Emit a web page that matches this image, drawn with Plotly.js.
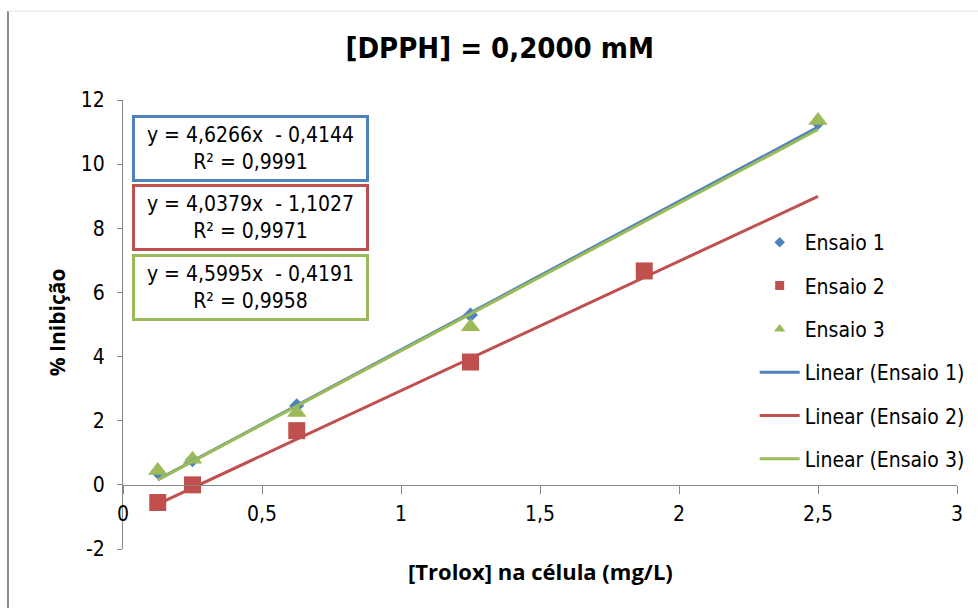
<!DOCTYPE html>
<html>
<head>
<meta charset="utf-8">
<script src="https://cdn.plot.ly/plotly-3.0.1.min.js"></script>
<style>html,body{margin:0;padding:0;background:#fff;}#chart{width:978px;height:608px;}</style>
</head>
<body>
<div id="chart"></div>
<script>
// ---- data ----
const x1 = [0.125, 0.25, 0.625, 1.25, 2.5];
const y1 = [0.40, 0.78, 2.47, 5.30, 11.30];
const x2 = [0.125, 0.25, 0.625, 1.25, 1.875];
const y2 = [-0.55, 0.00, 1.69, 3.83, 6.67];
const x3 = [0.125, 0.25, 0.625, 1.25, 2.5];
const y3 = [0.45, 0.80, 2.26, 4.93, 11.36];
const seriesNames = ['Ensaio 1', 'Ensaio 2', 'Ensaio 3'];
const slopes = [4.6266, 4.0379, 4.5995];
const intercepts = [-0.4144, -1.1027, -0.4191];
const r2 = ['0,9991', '0,9971', '0,9958'];
const trendX = [0.125, 2.5];
const xTickVals = [0, 0.5, 1, 1.5, 2, 2.5, 3];
const xTickText = ['0', '0,5', '1', '1,5', '2', '2,5', '3'];
const yTickVals = [-2, 0, 2, 4, 6, 8, 10, 12];
const yTickText = ['-2', '0', '2', '4', '6', '8', '10', '12'];
const eqText = ['y = 4,6266x  - 0,4144', 'y = 4,0379x  - 1,1027', 'y = 4,5995x  - 0,4191'];

const colors = ['#4F81BD', '#C0504D', '#9BBB59'];
const symbols = ['diamond', 'square', 'triangle-up'];
const sizes = [11.5, 17, 17];
const legSizes = [8, 9, 10];
const FONT = '"DejaVu Sans Condensed", "DejaVu Sans", sans-serif';
const TFONT = '"Open Sans", Lato, sans-serif';

const xs = [x1, x2, x3], ys = [y1, y2, y3];
const traces = [];
for (let i = 0; i < 3; i++) {
  traces.push({
    type: 'scatter', mode: 'markers', x: xs[i], y: ys[i], name: seriesNames[i],
    showlegend: false, hoverinfo: 'x+y',
    marker: {symbol: symbols[i], size: sizes[i], color: colors[i]}
  });
}
for (let i = 0; i < 3; i++) {
  traces.push({
    type: 'scatter', mode: 'markers', x: [null], y: [null], name: seriesNames[i],
    legendgroup: 'g' + i, legendrank: i + 1,
    marker: {symbol: symbols[i], size: legSizes[i], color: colors[i]}
  });
}
for (let i = 0; i < 3; i++) {
  traces.push({
    type: 'scatter', mode: 'lines', x: trendX,
    y: trendX.map(v => slopes[i] * v + intercepts[i]),
    name: 'Linear (' + seriesNames[i] + ')',
    legendgroup: 'g' + (i + 3), legendrank: i + 4,
    line: {color: colors[i], width: 3}
  });
}

const annotations = [];
const boxY = [0.892, 0.7383, 0.5835];
for (let i = 0; i < 3; i++) {
  annotations.push({
    xref: 'paper', yref: 'paper', x: 0.1529, y: boxY[i], xanchor: 'center', yanchor: 'middle',
    showarrow: false, text: eqText[i] + '<br>R² = ' + r2[i], align: 'center',
    font: {family: FONT, size: 21, color: '#000'},
    bgcolor: '#fff', bordercolor: colors[i], borderwidth: 3, borderpad: 1,
    width: 229, height: 59
  });
}
annotations.push({
  xref: 'paper', yref: 'paper', x: 0.5, y: -0.049, xanchor: 'center', yanchor: 'middle',
  showarrow: false, text: '<b>[Trolox] na célula (mg/L)</b>',
  font: {family: TFONT, size: 22, color: '#000', weight: 'bold'}
});
annotations.push({
  xref: 'paper', yref: 'paper', x: -0.0791, y: 0.505, xanchor: 'center', yanchor: 'middle',
  showarrow: false, textangle: -90, text: '<b>% Inibição</b>',
  font: {family: TFONT, size: 21, color: '#000', weight: 'bold'}
});

const layout = {
  width: 978, height: 608,
  margin: {l: 123, r: 21, t: 100, b: 59, autoexpand: false},
  paper_bgcolor: '#fff', plot_bgcolor: '#fff',
  title: {text: '<b>[DPPH] = 0,2000 mM</b>', font: {family: FONT, size: 29, color: '#000'},
          xref: 'container', x: 0.511, xanchor: 'center', y: 0.921, yanchor: 'middle'},
  xaxis: {range: [0, 3], tickvals: xTickVals, ticktext: xTickText, anchor: 'free', position: 1/7,
          showline: true, linecolor: '#868686', linewidth: 1, ticks: 'outside', ticklen: 8,
          tickcolor: '#868686', showgrid: false, zeroline: false, ticklabelstandoff: 2,
          tickfont: {family: FONT, size: 21, color: '#000'}},
  yaxis: {range: [-2, 12], tickvals: yTickVals, ticktext: yTickText,
          showline: true, linecolor: '#868686', linewidth: 1, ticks: 'outside', ticklen: 5,
          tickcolor: '#868686', showgrid: false, zeroline: false, ticklabelstandoff: 8,
          tickfont: {family: FONT, size: 21, color: '#000'}},
  legend: {x: 0.7574, y: 0.728, xanchor: 'left', yanchor: 'top', traceorder: 'grouped',
           tracegroupgap: 13, itemwidth: 40, bgcolor: 'rgba(0,0,0,0)',
           font: {family: FONT, size: 21, color: '#000'}},
  annotations: annotations,
  shapes: [
    {type: 'line', xref: 'paper', yref: 'paper', x0: -0.1379, x1: -0.1379, y0: 1.198, y1: -0.2,
     line: {color: '#8c8c8c', width: 2}},
    {type: 'line', xref: 'paper', yref: 'paper', x0: -0.1379, x1: 1.03, y0: 1.198, y1: 1.198,
     line: {color: '#e6e6e6', width: 1}}
  ],
  showlegend: true
};

Plotly.newPlot('chart', traces, layout, {displayModeBar: false, staticPlot: true});
</script>
</body>
</html>
